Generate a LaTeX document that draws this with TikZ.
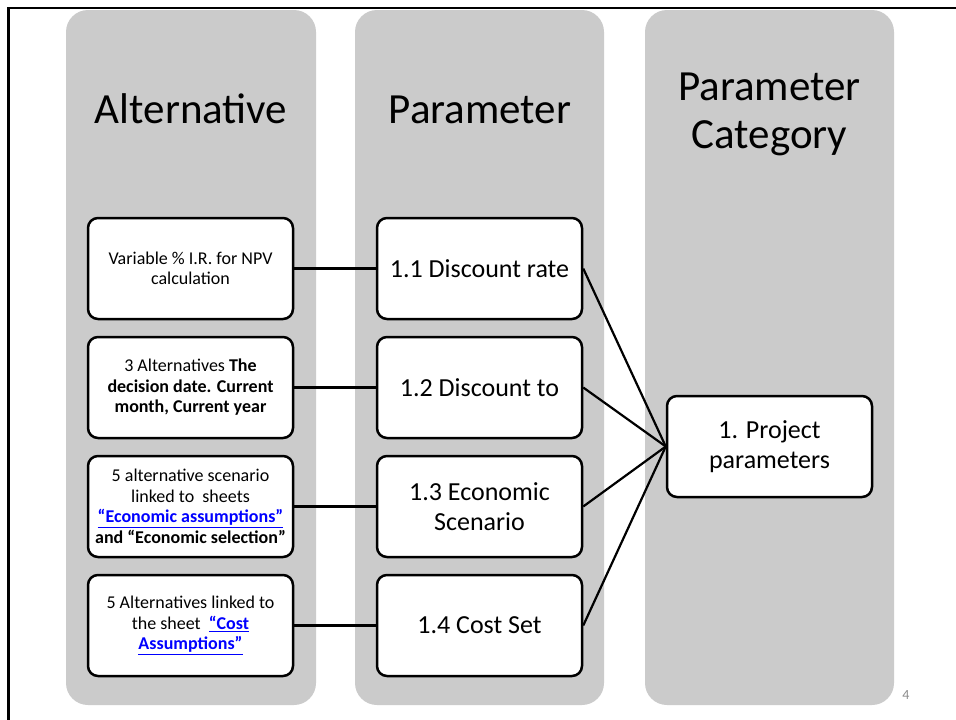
\documentclass[tikz,border=0pt]{standalone}
\usepackage{fontspec}
\setmainfont{Carlito}
\definecolor{colgray}{HTML}{CBCBCB}
\definecolor{linkblue}{HTML}{0000FF}
\definecolor{numgray}{HTML}{8C8C8C}
\newcommand{\lnk}[1]{\textcolor{linkblue}{\underline{\textbf{#1}}}}
\tikzset{
  column/.style={fill=colgray, draw=none, rounded corners=22pt},
  title/.style={font=\fontsize{43}{50}\selectfont, anchor=base, inner sep=0pt},
  card/.style={draw=black, line width=2.5pt, fill=white, rounded corners=10pt,
    minimum width=205pt, minimum height=101pt, inner sep=2pt, align=center},
  smalltxt/.style={card, font=\fontsize{18}{20.5}\selectfont},
  bigtxt/.style={card, font=\fontsize{26}{30}\selectfont},
  link/.style={line width=2.2pt, draw=black},
}
\begin{document}
\begin{tikzpicture}[x=1pt, y=-1pt]
\useasboundingbox (0,0) rectangle (956,720);
\fill[white] (0,0) rectangle (956,720);

% slide frame
\draw[line width=2.7pt] (956,8) -- (8.5,8) -- (8.5,720);

% the three gray columns
\path[column] (66,10) rectangle (316,705);
\path[column] (355,10) rectangle (604,705);
\path[column] (645,10) rectangle (894,705);

% column headings
\node[title] (t1) at (191,123) {Alternative};
\node[title] (t2) at (480,123) {Parameter};
\node[title] (t3a) at (769.5,100) {Parameter};
\node[title] (t3b) at (769.5,148) {Category};

% alternatives
\node[smalltxt] (a1) at (190.5,268.5) {Variable \% I.R. for NPV\\calculation};
\node[smalltxt] (a2) at (190.5,387.5) {3 Alternatives \textbf{The}\\\textbf{decision date. Current}\\\textbf{month, Current year}};
\node[smalltxt] (a3) at (190.5,506.5) {5 alternative scenario\\linked to\ \ sheets\\\lnk{“Economic assumptions”}\\\textbf{and “Economic selection”}};
\node[smalltxt] (a4) at (190.5,625.5) {5 Alternatives linked to\\the sheet\ \ \lnk{“Cost}\\\lnk{Assumptions”}};

% parameters
\node[bigtxt] (p1) at (479.5,268.5) {1.1 Discount rate};
\node[bigtxt] (p2) at (479.5,387.5) {1.2 Discount to};
\node[bigtxt] (p3) at (479.5,506.5) {1.3 Economic\\Scenario};
\node[bigtxt] (p4) at (479.5,625.5) {1.4 Cost Set};

% parameter category
\node[bigtxt] (pc) at (769.5,446.5) {1. Project\\parameters};

% connectors
\foreach \i in {1,2,3,4} {
  \draw[link] (a\i.east) -- (p\i.west);
  \draw[link] (p\i.east) -- (pc.west);
}

% slide number
\node[font=\fontsize{14}{16}\selectfont, text=numgray, inner sep=0pt] (num) at (906,695) {4};
\end{tikzpicture}
\end{document}
